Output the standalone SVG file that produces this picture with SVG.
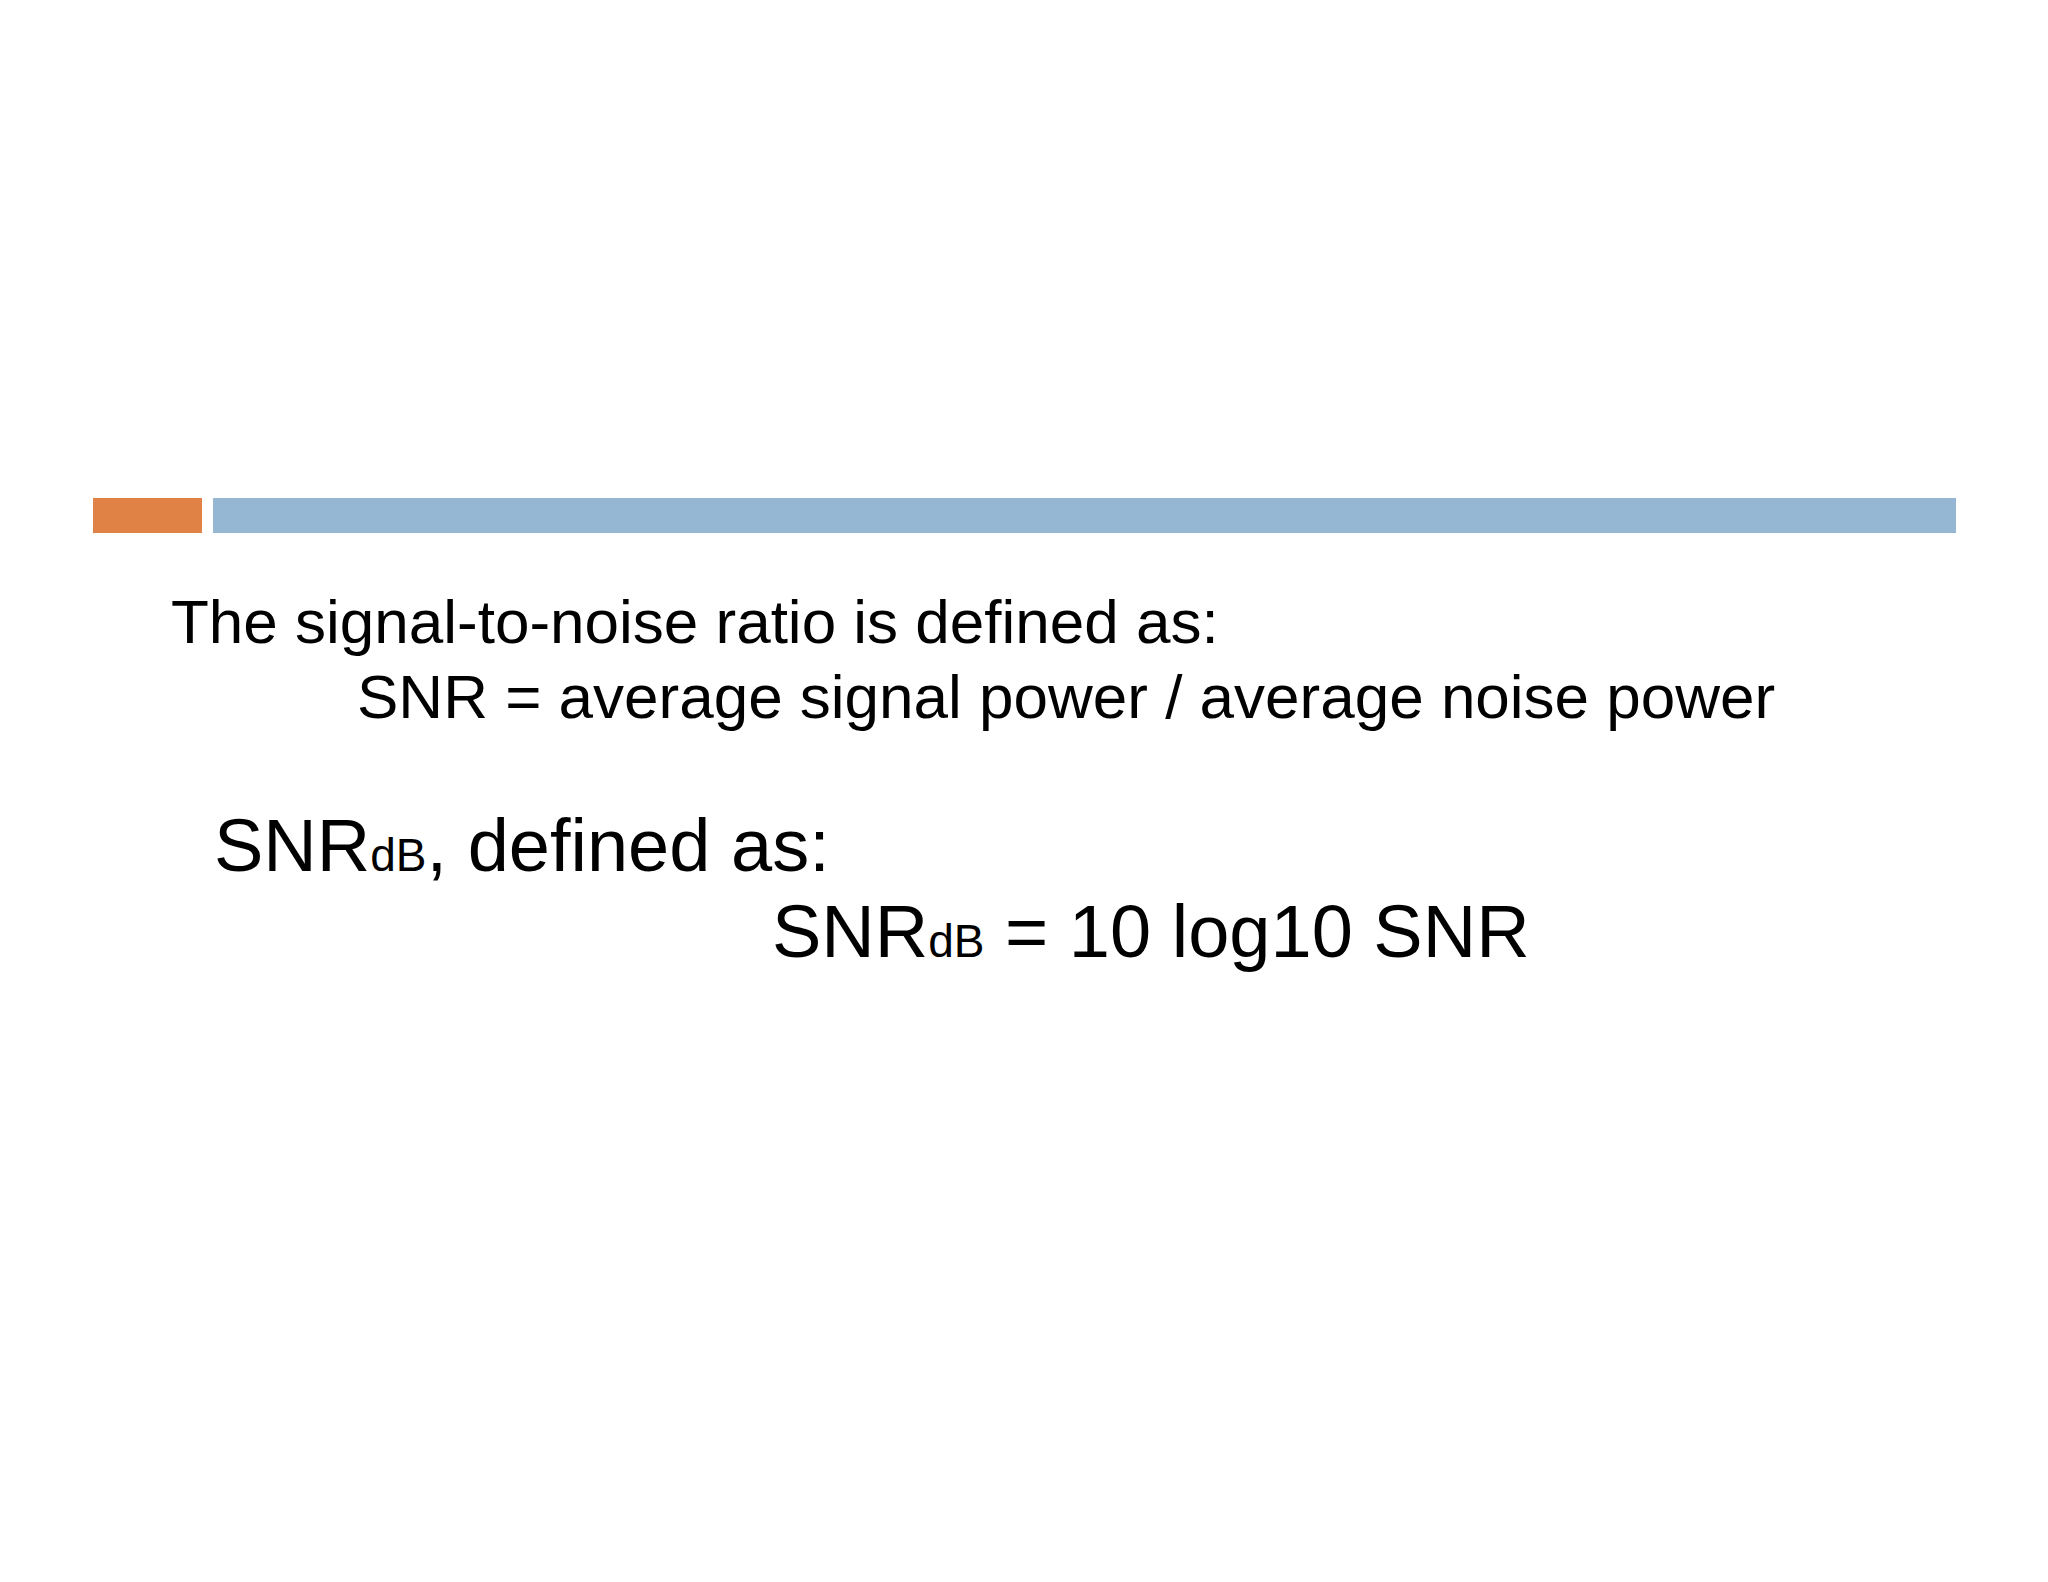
<svg xmlns="http://www.w3.org/2000/svg" width="2048" height="1582" viewBox="0 0 2048 1582">
<style>
text{font-family:"Liberation Sans",Arial,sans-serif;fill:#000}
.a{font-size:62px}
.b{font-size:74px}
.s{font-size:46px}
</style>
<rect width="2048" height="1582" fill="#fff"/>
<g id="bars">
<rect x="93" y="498" width="109" height="35" fill="#e08245"/>
<rect x="213" y="498" width="1743" height="35" fill="#95b7d3"/>
</g>
<g id="text1"><text class="a" x="171" y="643">The signal-to-noise ratio is defined as:</text></g>
<g id="text2"><text class="a" x="357" y="718">SNR = average signal power / average noise power</text></g>
<g id="text3"><text class="b" x="214" y="871">SNR<tspan class="s">dB</tspan>, defined as:</text></g>
<g id="text4"><text class="b" x="772" y="957">SNR<tspan class="s">dB</tspan> = 10 log10 SNR</text></g>
</svg>
